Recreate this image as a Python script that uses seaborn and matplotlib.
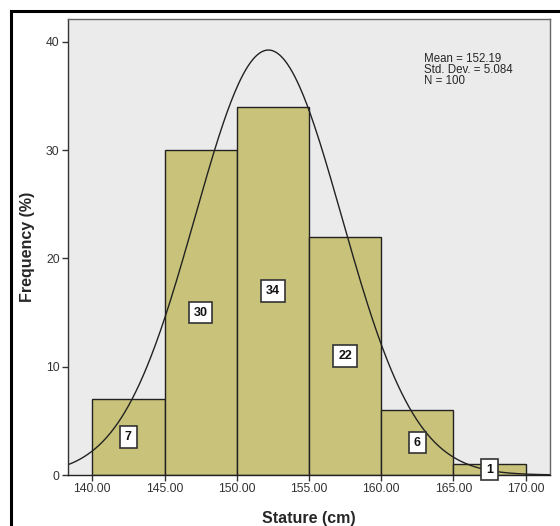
import numpy as np
import pandas as pd
import matplotlib
matplotlib.use('Agg')
import matplotlib.pyplot as plt
import seaborn as sns
from matplotlib.patches import Rectangle

# --- DATA ---
bin_edges = [140, 145, 150, 155, 160, 165, 170]
bin_mids = [142.5, 147.5, 152.5, 157.5, 162.5, 167.5]
counts = [7, 30, 34, 22, 6, 1]
mean_val = 152.19
sd_val = 5.084
n_val = 100
x_ticks = [140, 145, 150, 155, 160, 165, 170]
y_ticks = [0, 10, 20, 30, 40]

sns.set_style('white')
plt.rcParams['font.family'] = ['Liberation Sans', 'DejaVu Sans']

fig = plt.figure(figsize=(5.6, 5.26), dpi=100)
ax = fig.add_axes([68 / 560, 1 - 475 / 526, (550 - 68) / 560, (475 - 19) / 526])
ax.set_facecolor('#EBEBEB')

df = pd.DataFrame({'stature': bin_mids, 'count': counts})
sns.histplot(data=df, x='stature', weights='count', bins=bin_edges,
             color='#C8C27A', alpha=1, edgecolor='#222222', linewidth=1.0, ax=ax)

# fitted normal curve (scaled to counts per 5 cm bin)
xs = np.linspace(138.0, 172.0, 400)
ys = n_val * 5 / (sd_val * np.sqrt(2 * np.pi)) * np.exp(-0.5 * ((xs - mean_val) / sd_val) ** 2)
sns.lineplot(x=xs, y=ys, color='#222222', linewidth=1.0, ax=ax)

# value boxes at half bar height
for m, c in zip(bin_mids, counts):
    ax.text(m, c / 2, str(c), ha='center', va='center', fontsize=9, fontweight='bold',
            color='#111111',
            bbox=dict(boxstyle='square,pad=0.38', fc='white', ec='#333333', lw=1.2))

ax.text(0.738, 0.925, f'Mean = {mean_val}\nStd. Dev. = {sd_val}\nN = {n_val}',
        transform=ax.transAxes, ha='left', va='top', fontsize=8.3, linespacing=0.85)

ax.set_xlim(138.32, 171.68)
ax.set_ylim(0, 42.1)
ax.set_xticks(x_ticks)
ax.set_xticklabels([f'{t:.2f}' for t in x_ticks], fontsize=8.8)
ax.set_yticks(y_ticks)
ax.set_yticklabels([str(t) for t in y_ticks], fontsize=8.8)
ax.tick_params(axis='both', direction='out', length=4, width=1.0, color='#333333',
               left=True, bottom=True, pad=2, labelcolor='#333333')
for s in ax.spines.values():
    s.set_color('#666666')
    s.set_linewidth(1.0)
ax.spines['bottom'].set_color('#222222')
ax.spines['left'].set_color('#333333')

ax.set_xlabel('Stature (cm)', fontsize=11.5, fontweight='bold', labelpad=11)
ax.set_ylabel('Frequency (%)', fontsize=11.5, fontweight='bold', labelpad=8)

# outer black frame
fig.patches.append(Rectangle((11 / 560, -0.1), 1.2, 1 - 11 / 526 + 0.1, transform=fig.transFigure,
                             fill=False, ec='black', lw=2.2))

fig.savefig('out.png', dpi=100)
